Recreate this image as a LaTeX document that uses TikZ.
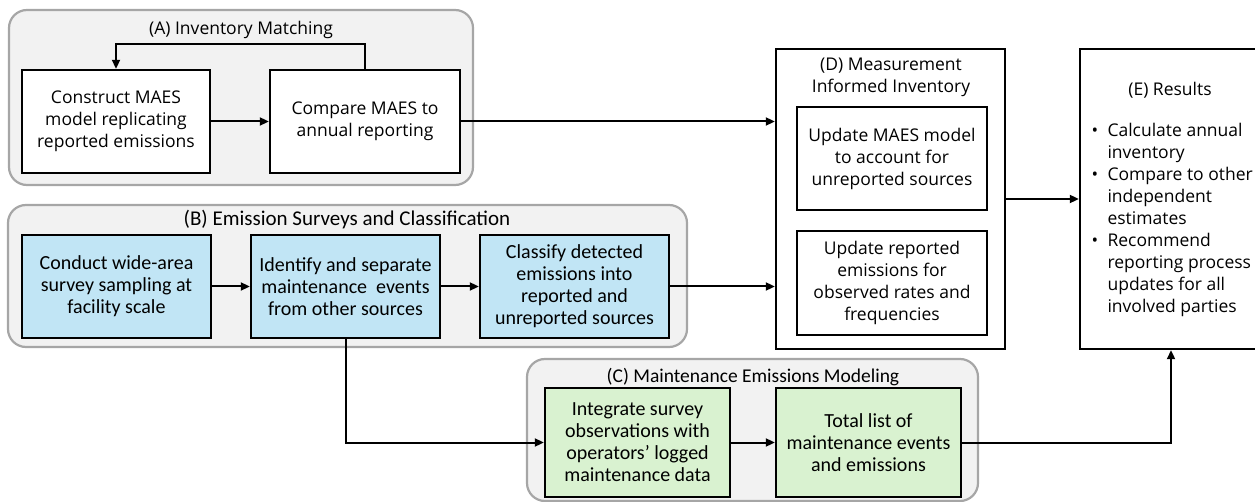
\documentclass[tikz,border=0pt]{standalone}
\usepackage{fontspec}
\setmainfont{Open Sans}
\newfontfamily\narrowfont{Carlito}
\usetikzlibrary{arrows.meta}
\definecolor{grpfill}{HTML}{F2F2F2}
\definecolor{grpline}{HTML}{A6A6A6}
\definecolor{surveyblue}{HTML}{C1E5F5}
\definecolor{modelgreen}{HTML}{D9F2D0}
\begin{document}
\begin{tikzpicture}[x=1pt, y=-1pt,
    group/.style={draw=grpline, fill=grpfill, line width=2.2pt, rounded corners=18pt},
    grptitle/.style={font=\fontsize{17.5}{22}\selectfont},
    stepbox/.style={draw, line width=2.4pt, fill=white, align=center, inner sep=2pt,
        minimum width=189pt, minimum height=103pt, font=\fontsize{17.5}{22}\selectfont},
    survey/.style={stepbox, fill=surveyblue, font=\narrowfont\fontsize{20}{22}\selectfont},
    model/.style={survey, fill=modelgreen, minimum width=185pt, minimum height=109pt},
    arr/.style={-{Triangle[length=9pt,width=8pt]}, line width=2pt}]
    \useasboundingbox (0,0) rectangle (1255,502);
    % group frames
    \node[group, minimum width=464pt, minimum height=175pt] (grpA) at (241,97.5) {};
    \node[group, minimum width=679pt, minimum height=142pt] (grpB) at (347.5,276) {};
    \node[group, minimum width=451pt, minimum height=142pt] (grpC) at (752.5,430) {};
    \node[grptitle] (titleA) at (241,30) {(A) Inventory Matching};
    \node[grptitle, font=\narrowfont\fontsize{21}{22}\selectfont] (titleB) at (347,220) {(B) Emission Surveys and Classification};
    \node[grptitle, font=\narrowfont\fontsize{19.5}{22}\selectfont] (titleC) at (753,377) {(C) Maintenance Emissions Modeling};
    % (A)
    \node[stepbox, minimum width=188pt] (a1) at (116,121.5) {Construct MAES\\model replicating\\reported emissions};
    \node[stepbox, minimum width=190pt] (a2) at (365,121.5) {Compare MAES to\\annual reporting};
    % (B)
    \node[survey] (b1) at (116.5,286.5) {Conduct wide-area\\survey sampling at\\facility scale};
    \node[survey] (b2) at (345.5,286.5) {Identify and separate\\maintenance~ events\\from other sources};
    \node[survey] (b3) at (574.5,286.5) {Classify detected\\emissions into\\reported and\\unreported sources};
    % (C)
    \node[model] (c1) at (637.5,442.5) {Integrate survey\\observations with\\operators’ logged\\maintenance data};
    \node[model] (c2) at (868.5,442.5) {Total list of\\maintenance events\\and emissions};
    % (D)
    \node[stepbox, minimum width=229pt, minimum height=300pt] (d) at (890.5,199) {};
    \node[grptitle, align=center] (titleD) at (891,77) {(D) Measurement\\Informed Inventory};
    \node[stepbox, minimum width=190pt] (d1) at (892,158.5) {Update MAES model\\to account for\\unreported sources};
    \node[stepbox, minimum width=190pt, minimum height=104pt] (d2) at (892,283) {Update reported\\emissions for\\observed rates and\\frequencies};
    % (E)
    \node[stepbox, minimum width=182pt, minimum height=300pt] (e) at (1171,199) {};
    \node[grptitle] (titleE) at (1170,90) {(E) Results};
    \node[grptitle, anchor=north west, align=left] (eList) at (1088,120)
        {\makebox[16pt][l]{•}Calculate annual\\\hspace*{16pt}inventory\\
         \makebox[16pt][l]{•}Compare to other\\\hspace*{16pt}independent\\\hspace*{16pt}estimates\\
         \makebox[16pt][l]{•}Recommend\\\hspace*{16pt}reporting process\\\hspace*{16pt}updates for all\\\hspace*{16pt}involved parties};
    % connectors
    \draw[arr] (a1) -- (a2);
    \draw[arr] (a2.north) -- ++(0,-25) -| (a1.north);
    \draw[arr] (a2.east) -- (a2.east -| d.west);
    \draw[arr] (b1) -- (b2);
    \draw[arr] (b2) -- (b3);
    \draw[arr] (b3.east) -- (b3.east -| d.west);
    \draw[arr] (b2.south) |- (c1.west);
    \draw[arr] (c1) -- (c2);
    \draw[arr] (c2.east) -| (e.south);
    \draw[arr] (d.east) -- (e.west);
\end{tikzpicture}
\end{document}
